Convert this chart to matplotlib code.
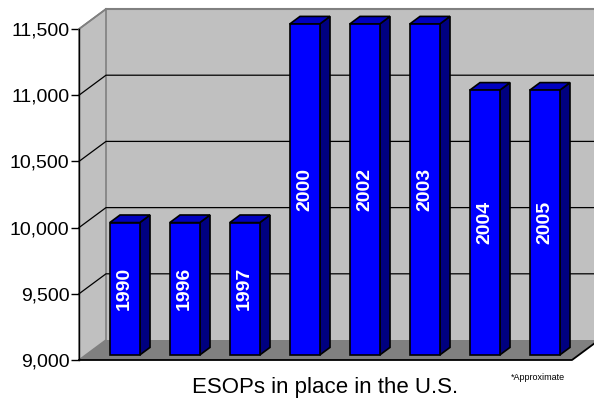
import matplotlib
matplotlib.use("Agg")
import matplotlib.pyplot as plt
from matplotlib.patches import Polygon
from matplotlib.ticker import FuncFormatter

plt.rcParams['font.family'] = ['Liberation Sans', 'DejaVu Sans']

years = ["1990", "1996", "1997", "2000", "2002", "2003", "2004", "2005"]
esops = [10000, 10000, 10000, 11500, 11500, 11500, 11000, 11000]
yticks = [9000, 9500, 10000, 10500, 11000, 11500]

# depth offsets in data units (x in categories, y in value units)
DX = 0.45
DY = 151
YMIN, YMAX = 9000, 11500
XMIN, XMAX = -0.65, 7.567


def pt(x, y, d):
    return (x + DX * d, y + DY * d)


fig = plt.figure(figsize=(5.94, 4.0), dpi=100)
ax = fig.add_axes([79 / 594, 40 / 400, 493 / 594, 331 / 400])
ax.set_xlim(XMIN, XMAX)
ax.set_ylim(YMIN, YMAX)

# walls and floor
back = Polygon([pt(XMIN, YMIN, 1), pt(XMAX + 1, YMIN, 1),
                pt(XMAX + 1, YMAX, 1), pt(XMIN, YMAX, 1)],
               closed=True, fc="#c0c0c0", ec="none", clip_on=False, zorder=1)
left = Polygon([pt(XMIN, YMIN, 0), pt(XMIN, YMAX, 0),
                pt(XMIN, YMAX, 1), pt(XMIN, YMIN, 1)],
               closed=True, fc="#c0c0c0", ec="#808080", lw=1.2, clip_on=False, zorder=1)
floor = Polygon([pt(XMIN, YMIN, 0), pt(XMAX, YMIN, 0),
                 pt(XMAX, YMIN, 1), pt(XMIN, YMIN, 1)],
                closed=True, fc="#808080", ec="none", clip_on=False, zorder=1)
for p in (back, left, floor):
    ax.add_patch(p)

# top edge of back wall
x0, y0 = pt(XMIN, YMAX, 1)
ax.plot([x0, XMAX + 1], [y0, y0], color="#808080", lw=1.5, clip_on=False, zorder=2)

# gridlines on back wall and left wall
for t in yticks[1:-1]:
    a = pt(XMIN, t, 0)
    b = pt(XMIN, t, 1)
    c = pt(XMAX + 1, t, 1)
    ax.plot([a[0], b[0], c[0]], [a[1], b[1], c[1]], color="black", lw=0.9,
            clip_on=False, zorder=2)
# top diagonal
a = pt(XMIN, YMAX, 0)
b = pt(XMIN, YMAX, 1)
ax.plot([a[0], b[0]], [a[1], b[1]], color="#808080", lw=1.2, clip_on=False, zorder=2)

# floor edges
a = pt(XMIN, YMIN, 0)
b = pt(XMAX, YMIN, 0)
c = pt(XMAX, YMIN, 1)
ax.plot([a[0], b[0], c[0]], [a[1], b[1], c[1]], color="black", lw=1.3,
        clip_on=False, zorder=2)

# bars
W = 0.25
D0, D1 = 0.25, 0.63
for i, (yr, v) in enumerate(zip(years, esops)):
    xl, xr = i - W, i + W
    front = [pt(xl, YMIN, D0), pt(xr, YMIN, D0), pt(xr, v, D0), pt(xl, v, D0)]
    side = [pt(xr, YMIN, D0), pt(xr, YMIN, D1), pt(xr, v, D1), pt(xr, v, D0)]
    top = [pt(xl, v, D0), pt(xr, v, D0), pt(xr, v, D1), pt(xl, v, D1)]
    for poly, col in ((side, "#000080"), (top, "#0000c0"), (front, "#0000ff")):
        ax.add_patch(Polygon(poly, closed=True, fc=col, ec="black", lw=1.2,
                             joinstyle="miter", clip_on=False, zorder=3))
    cx, cy = pt(i, (YMIN + v) / 2, D0)
    ax.text(cx, cy, yr, rotation=90, ha="center", va="center", color="white",
            fontsize=14, fontweight="bold", zorder=4)

# axis styling
for s in ("top", "right", "bottom"):
    ax.spines[s].set_visible(False)
ax.spines["left"].set_color("black")
ax.spines["left"].set_linewidth(1.0)
ax.spines["left"].set_zorder(5)
ax.set_xticks([])
ax.set_yticks(yticks)
ax.yaxis.set_major_formatter(FuncFormatter(lambda v, p: f"{int(v):,}"))
ax.tick_params(axis="y", direction="out", length=6, width=1, labelsize=14, pad=1)
ax.patch.set_visible(False)

fig.text(325 / 594, 1 - 388 / 400, "ESOPs in place in the U.S.", ha="center",
         va="center", fontsize=16)
fig.text(538 / 594, 1 - 378 / 400, "*Approximate", ha="center", va="center",
         fontsize=6.5)

fig.savefig("out.png", dpi=100)
